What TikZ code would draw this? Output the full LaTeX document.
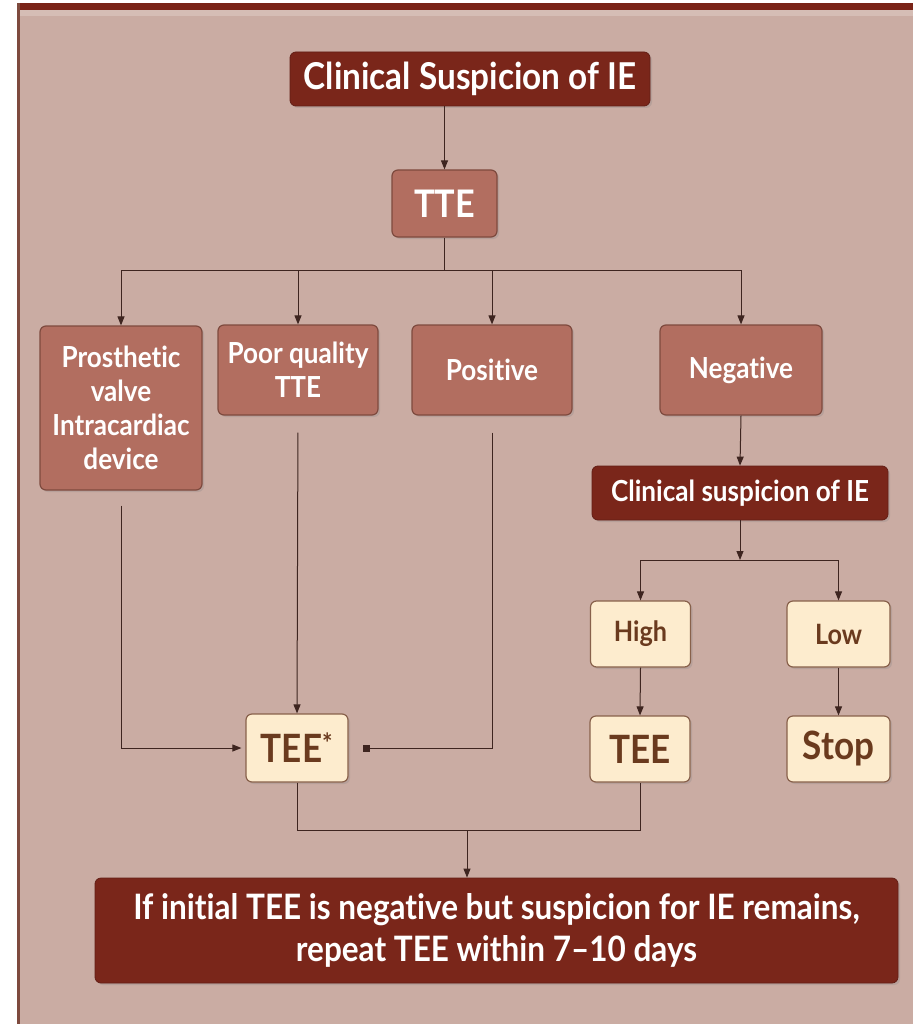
\documentclass[tikz,border=0pt]{standalone}
\usepackage{fontspec}
\setmainfont[FakeStretch=0.9, Ligatures={NoCommon}]{Lato}
\usetikzlibrary{arrows.meta,shadows}
\definecolor{bgc}{HTML}{CAACA3}
\definecolor{midc}{HTML}{B26E60}
\definecolor{midb}{HTML}{7E4A3E}
\definecolor{darkc}{HTML}{7A261A}
\definecolor{lightc}{HTML}{FDECCE}
\definecolor{lightt}{HTML}{6A3A1E}
\definecolor{linec}{HTML}{3E2520}
\definecolor{topbar}{HTML}{7A2418}
\tikzset{
  base/.style={rounded corners=6pt, align=center, inner sep=2pt, font=\bfseries, drop shadow={opacity=0.25, shadow xshift=2pt, shadow yshift=-2pt}},
  darkbox/.style={base, fill=darkc, draw=darkc!80!black, line width=0.8pt, text=white},
  midbox/.style={base, fill=midc, draw=midb, line width=1.2pt, text=white},
  lightbox/.style={base, fill=lightc, draw=lightt!80, line width=1.2pt, text=lightt},
  conn/.style={draw=linec, line width=1pt},
  arr/.style={conn, -{Triangle[length=9pt,width=7pt]}},
}
\begin{document}
\begin{tikzpicture}[x=1pt,y=-1pt]
\useasboundingbox (0,0) rectangle (913,1024);
\fill[white] (0,0) rectangle (913,1024);
\fill[bgc] (17,3) rectangle (913,1024);
\fill[topbar] (17,3) rectangle (913,10);
\fill[bgc!80!white] (19,10) rectangle (913,16);
\fill[midb] (17,3) rectangle (19.5,1024);

\node[darkbox, minimum width=360pt, minimum height=54pt, font=\bfseries\fontsize{37}{40}\selectfont] (top) at (470,79) {Clinical Suspicion of IE};
\node[midbox, minimum width=105pt, minimum height=67pt, font=\bfseries\fontsize{38}{40}\selectfont] (tte) at (444.5,203.5) {TTE};

\node[midbox, minimum width=162pt, minimum height=164pt, font=\bfseries\fontsize{29}{34}\selectfont] (p1) at (121,408) {Prosthetic\\valve\\Intracardiac\\device};
\node[midbox, minimum width=160pt, minimum height=90pt, font=\bfseries\fontsize{29}{34}\selectfont] (p2) at (298,370) {Poor quality\\TTE};
\node[midbox, minimum width=160pt, minimum height=90pt, font=\bfseries\fontsize{29}{34}\selectfont] (p3) at (492,370) {Positive};
\node[midbox, minimum width=162pt, minimum height=90pt, font=\bfseries\fontsize{29}{34}\selectfont] (p4) at (741,370) {Negative};

\node[darkbox, minimum width=296pt, minimum height=54pt, font=\bfseries\fontsize{29}{32}\selectfont] (cs) at (740,493) {Clinical suspicion of IE};

\node[lightbox, minimum width=100pt, minimum height=66pt, font=\bfseries\fontsize{28}{30}\selectfont] (high) at (640.5,634) {High};
\node[lightbox, minimum width=103pt, minimum height=66pt, font=\bfseries\fontsize{28}{30}\selectfont] (low) at (838.5,634) {Low};
\node[lightbox, minimum width=100pt, minimum height=66pt, font=\bfseries\fontsize{39}{40}\selectfont] (teer) at (640,749) {TEE};
\node[lightbox, minimum width=103pt, minimum height=66pt, font=\bfseries\fontsize{39}{40}\selectfont] (stop) at (838.5,749) {Stop};
\node[lightbox, minimum width=102pt, minimum height=68pt, font=\bfseries\fontsize{39}{40}\selectfont] (tees) at (297,748) {TEE\textsuperscript{*}};

\node[darkbox, minimum width=803pt, minimum height=105pt, font=\bfseries\fontsize{35}{42}\selectfont] (bot) at (496.5,930.5) {If initial TEE is negative but suspicion for IE remains,\\repeat TEE within 7--10 days};

% connectors
\draw[arr] (top.south -| tte.north) -- (tte.north);
\coordinate (j1) at (444.5,270);
\draw[conn] (tte.south) -- (j1);
\draw[conn] (p1.north |- j1) -- (p4.north |- j1);
\draw[arr] (p1.north |- j1) -- (p1.north);
\draw[arr] (p2.north |- j1) -- (p2.north);
\draw[arr] (p3.north |- j1) -- (p3.north);
\draw[arr] (p4.north |- j1) -- (p4.north);

\draw[arr] (p4.south) -- (cs.north);
\coordinate (j2) at (740,560);
\draw[arr] (cs.south) -- (j2);
\draw[conn] (high.north |- j2) -- (low.north |- j2);
\draw[arr] (high.north |- j2) -- (high.north);
\draw[arr] (low.north |- j2) -- (low.north);
\draw[arr] (high.south) -- (teer.north);
\draw[arr] (low.south) -- (stop.north);

\draw[arr, shorten <=15pt, shorten >=4pt] (p1.south) |- (tees.west);
\draw[arr, shorten <=17pt] (p2.south) -- (tees.north);
\draw[conn, -{Square[length=7pt,width=7pt]}, shorten <=17pt, shorten >=14pt] (p3.south) |- (tees.east);

\coordinate (j3) at (467,830);
\draw[conn] (tees.south) |- (j3) -| (teer.south);
\draw[arr] (j3) -- (j3 |- bot.north);
\end{tikzpicture}
\end{document}
